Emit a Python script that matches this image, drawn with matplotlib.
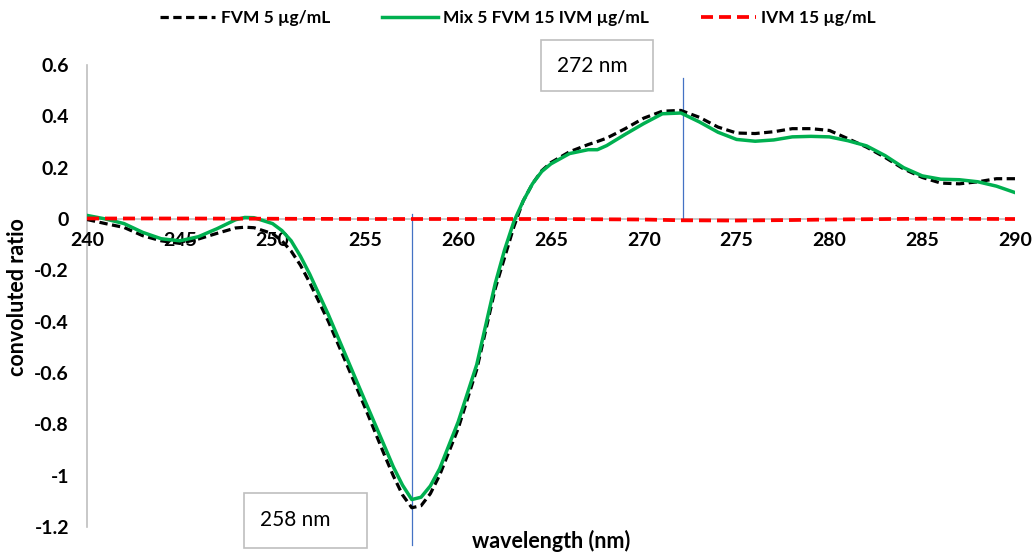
import matplotlib
matplotlib.use("Agg")
import matplotlib.pyplot as plt
from matplotlib.patches import Rectangle

plt.rcParams['font.family'] = ['Lato', 'DejaVu Sans']

# ---- data ----
wavelength = [240, 241, 242, 243, 244, 245, 246, 247, 248, 248.5, 249, 250, 250.5, 251, 251.5,
              252, 253, 254, 255, 256, 256.5, 257, 257.5, 258, 258.5, 259, 260, 261, 262, 262.5,
              263, 263.5, 264, 264.5, 265, 266, 267, 267.5, 268, 269, 270, 271, 272, 273, 274,
              275, 276, 277, 278, 279, 280, 281, 282, 283, 284, 285, 286, 287, 288, 289, 290]
fvm_5 = [-0.002, -0.018, -0.033, -0.065, -0.085, -0.095, -0.078, -0.056, -0.035, -0.032, -0.034,
         -0.057, -0.085, -0.125, -0.18, -0.248, -0.398, -0.567, -0.738, -0.915, -1.0, -1.075,
         -1.125, -1.117, -1.07, -0.998, -0.816, -0.586, -0.27, -0.15, -0.03, 0.07, 0.137, 0.188,
         0.22, 0.262, 0.29, 0.302, 0.315, 0.352, 0.393, 0.42, 0.423, 0.396, 0.358, 0.335, 0.333,
         0.34, 0.352, 0.352, 0.345, 0.313, 0.28, 0.24, 0.195, 0.162, 0.14, 0.137, 0.145, 0.157, 0.157]
mix = [0.014, 0.0, -0.018, -0.052, -0.077, -0.085, -0.069, -0.038, -0.003, 0.006, 0.005,
       -0.018, -0.045, -0.085, -0.145, -0.215, -0.372, -0.542, -0.712, -0.88, -0.965, -1.037,
       -1.093, -1.084, -1.04, -0.973, -0.79, -0.567, -0.25, -0.12, -0.01, 0.07, 0.137, 0.185,
       0.215, 0.255, 0.27, 0.27, 0.286, 0.33, 0.372, 0.41, 0.413, 0.378, 0.338, 0.31, 0.303,
       0.308, 0.32, 0.322, 0.32, 0.305, 0.285, 0.247, 0.2, 0.168, 0.155, 0.153, 0.145, 0.128, 0.103]
ivm_wavelength = [240, 245, 250, 255, 260, 265, 270, 272, 275, 278, 280, 285, 290]
ivm_15 = [0.002, 0.002, 0.001, 0.0, 0.0, 0.0, -0.002, -0.005, -0.006, -0.004, -0.002, 0.001, 0.0]

labels = ["FVM 5 µg/mL", "Mix 5 FVM 15 IVM µg/mL", "IVM 15 µg/mL"]
x_ticks = [240, 245, 250, 255, 260, 265, 270, 275, 280, 285, 290]
y_ticks = [-1.2, -1, -0.8, -0.6, -0.4, -0.2, 0, 0.2, 0.4, 0.6]
y_tick_labels = ["-1.2", "-1", "-0.8", "-0.6", "-0.4", "-0.2", "0", "0.2", "0.4", "0.6"]
marker_lines = [(257.5, 0.02, -1.27, "258 nm"), (272.1, 0.55, 0.0, "272 nm")]

W, H = 1033, 554
fig = plt.figure(figsize=(W / 100, H / 100), dpi=100)
ax = fig.add_axes([87 / W, 1 - 527 / H, (1015 - 87) / W, (527 - 65) / H])

l1, = ax.plot(wavelength, fvm_5, color='black', lw=2.3, linestyle=(0, (2.6, 1.4)),
              label=labels[0], zorder=3)
l2, = ax.plot(wavelength, mix, color='#00B050', lw=2.5, label=labels[1], zorder=4)
l3, = ax.plot(ivm_wavelength, ivm_15, color='#FF0000', lw=2.7, linestyle=(0, (3.2, 1.6)),
              label=labels[2], zorder=5)

for xv, y0, y1, _ in marker_lines:
    ax.plot([xv, xv], [y0, y1], color='#4472C4', lw=0.9, clip_on=False, zorder=2)

ax.set_xlim(240, 290)
ax.set_ylim(-1.2, 0.6)
for s in ['top', 'right', 'bottom']:
    ax.spines[s].set_visible(False)
ax.spines['left'].set_color('#BFBFBF')
ax.spines['left'].set_linewidth(1.2)
ax.axhline(0, color='#BFBFBF', lw=1.2, zorder=1)

ax.set_xticks(x_ticks)
ax.set_yticks(y_ticks)
ax.set_yticklabels(y_tick_labels)
ax.tick_params(axis='both', length=0, labelsize=14)
ax.tick_params(axis='y', pad=13)
for lab in ax.get_yticklabels():
    lab.set_fontweight('bold')

# x tick labels next to the zero line
ax.set_xticklabels([])
for t in x_ticks:
    ax.text(t, -0.05, str(t), ha='center', va='top', fontsize=14, fontweight='bold')

fig.text(18 / W, 1 - 297 / H, "convoluted ratio", rotation=90, ha='center', va='center',
         fontsize=15.5, fontweight='bold')
fig.text(551 / W, 1.5 / H, "wavelength (nm)", ha='center', va='bottom',
         fontsize=15.5, fontweight='bold')

# annotation boxes
boxes = [(541, 40, 653, 91, marker_lines[1][3]), (244, 493, 367, 548, marker_lines[0][3])]
for x0, y0, x1, y1, txt in boxes:
    fig.patches.append(Rectangle((x0 / W, 1 - y1 / H), (x1 - x0) / W, (y1 - y0) / H,
                                 transform=fig.transFigure, facecolor='white',
                                 edgecolor='#BFBFBF', lw=1.2, zorder=6))
    fig.text((x0 + 16) / W, 1 - ((y0 + y1) / 2) / H, txt, ha='left', va='center',
             fontsize=15, zorder=7)

fig.legend(handles=[l1, l2, l3], labels=labels, loc='center', bbox_to_anchor=(518 / W, 1 - 18 / H),
           ncol=3, frameon=False, handlelength=3.2, columnspacing=3.0, handletextpad=0.3,
           prop={'weight': 'bold', 'size': 12.5})

fig.savefig("out.png", dpi=100)
